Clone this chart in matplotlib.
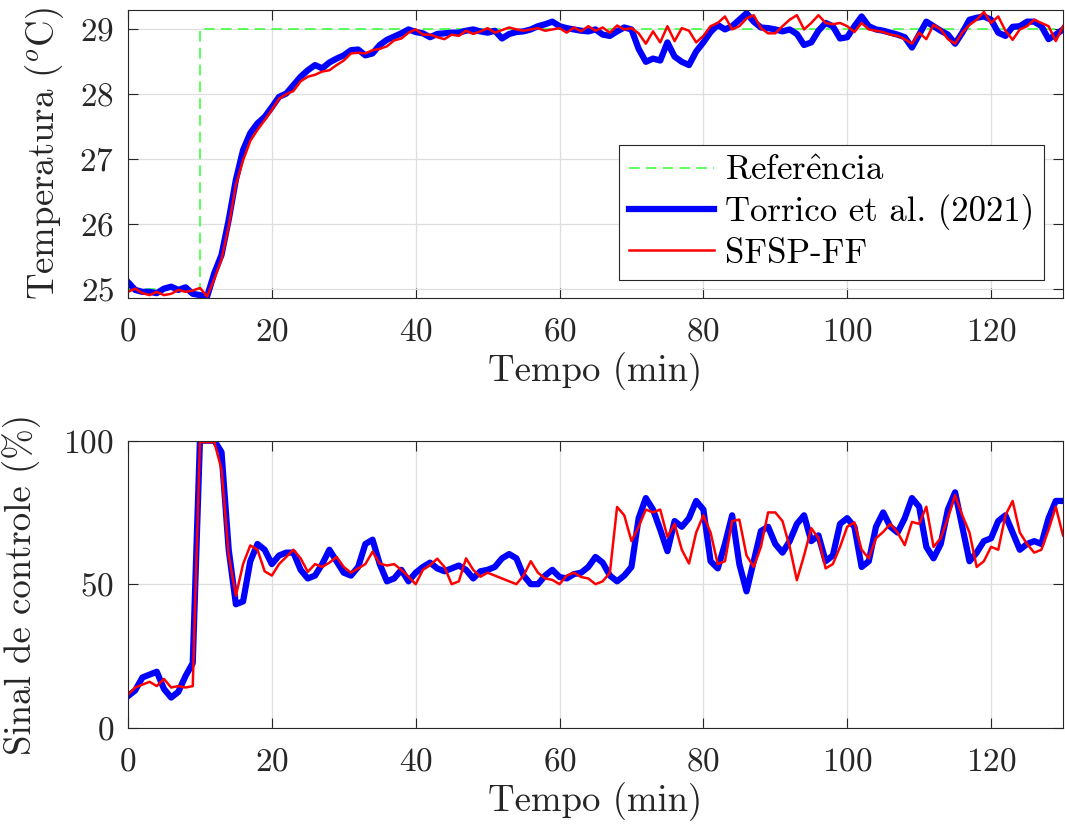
import matplotlib
matplotlib.use("Agg")
import matplotlib.pyplot as plt
import numpy as np

# tempo (min), amostrado a cada minuto
tempo = np.arange(0, 131)

# Referência de temperatura
ref_t0 = 25.0
ref_t1 = 29.0
ref_degrau = 10

# Temperatura (oC)
temp_torrico = [
    25.10, 24.98, 24.95, 24.95, 24.93, 25.00, 25.03, 24.98, 25.02, 24.92,
    24.90, 24.88, 25.24, 25.52, 26.06, 26.68, 27.14, 27.40, 27.55, 27.65,
    27.80, 27.96, 28.01, 28.14, 28.27, 28.37, 28.45, 28.40, 28.49, 28.55,
    28.60, 28.68, 28.69, 28.60, 28.63, 28.76, 28.84, 28.89, 28.94, 29.00,
    28.96, 28.94, 28.88, 28.93, 28.94, 28.95, 28.95, 28.98, 29.00, 28.97,
    28.95, 28.98, 28.86, 28.93, 28.96, 28.97, 29.00, 29.05, 29.08, 29.12,
    29.05, 29.02, 29.00, 28.98, 28.97, 29.00, 28.92, 28.90, 28.97, 29.03,
    29.00, 28.70, 28.50, 28.55, 28.52, 28.80, 28.58, 28.50, 28.45, 28.66,
    28.80, 28.96, 29.07, 29.00, 29.05, 29.15, 29.25, 29.12, 29.03, 29.02,
    29.00, 28.97, 29.00, 28.93, 28.76, 28.80, 28.98, 29.10, 29.05, 28.86,
    28.88, 29.05, 29.20, 29.05, 29.00, 28.98, 28.95, 28.92, 28.88, 28.72,
    28.92, 29.12, 29.05, 28.98, 28.92, 28.78, 28.95, 29.15, 29.18, 29.20,
    29.15, 28.95, 28.90, 29.04, 29.05, 29.12, 29.12, 29.05, 28.85, 28.92,
    29.00]

temp_sfsp = [
    24.95, 25.00, 24.93, 24.90, 24.95, 24.90, 24.92, 24.98, 24.95, 24.97,
    25.01, 24.88, 25.15, 25.45, 25.96, 26.60, 26.98, 27.28, 27.45, 27.60,
    27.76, 27.93, 28.00, 28.05, 28.20, 28.27, 28.30, 28.35, 28.37, 28.45,
    28.52, 28.63, 28.64, 28.63, 28.68, 28.70, 28.74, 28.83, 28.86, 28.95,
    29.00, 28.92, 28.92, 28.88, 28.85, 28.92, 28.90, 28.98, 28.93, 28.97,
    29.02, 28.95, 28.99, 29.03, 29.00, 28.98, 29.00, 29.02, 28.98, 29.00,
    29.02, 28.95, 29.03, 28.97, 29.05, 28.98, 29.03, 28.95, 29.06, 29.00,
    29.02, 28.94, 28.78, 28.97, 28.80, 29.05, 28.82, 29.02, 28.98, 28.80,
    28.90, 29.05, 29.10, 29.20, 29.00, 29.05, 29.17, 29.22, 29.02, 28.94,
    28.94, 29.05, 29.15, 29.22, 29.00, 29.10, 29.22, 29.10, 29.08, 29.10,
    29.05, 28.96, 29.10, 29.00, 28.98, 28.96, 28.92, 28.90, 28.85, 28.78,
    28.95, 28.85, 29.07, 29.00, 28.85, 28.78, 28.95, 29.07, 29.15, 29.27,
    29.10, 29.20, 28.98, 28.84, 29.00, 29.05, 29.15, 29.10, 29.05, 28.82,
    29.05]

# Sinal de controle (%)
u_torrico = [
    11, 13, 17.5, 18.5, 19.5, 13.5, 10.5, 12.5, 18, 22.5,
    100, 100, 100, 96, 62, 43, 44, 58, 64, 62,
    57, 60, 61, 61, 55, 52, 53, 57, 62, 58,
    54, 53, 56, 64, 65.5, 57, 51, 52, 55, 51,
    54, 56, 57.5, 55.5, 54.5, 55.5, 56.5, 55, 52, 54.5,
    55, 56, 59, 60.5, 59, 53, 50, 50, 53, 55,
    52.5, 52, 53.5, 54, 56, 59.5, 57.5, 53, 51, 53,
    56, 73, 80, 76, 69, 61.5, 72, 70, 73, 79,
    76, 58, 55.5, 64, 74, 57, 47.5, 58, 68.5, 70,
    64, 61, 65, 71, 74, 65, 67, 58, 60, 71,
    73, 70, 56, 58, 70, 75, 70, 68, 73, 80,
    77, 63, 59, 64, 76, 82, 70, 58, 61, 65,
    66, 72, 74, 68, 62, 64, 65, 64, 73, 79,
    79]

u_sfsp = [
    11.5, 14, 15, 16, 14.5, 17, 14, 14.5, 14, 14.5,
    99.5, 99.5, 99.5, 90, 60, 46, 57, 63.5, 62, 54.5,
    53, 57, 59.5, 62, 59, 54.3, 57, 56, 57.5, 59.5,
    56, 54, 55.5, 57, 61.3, 57.2, 56.5, 57, 55, 52.6,
    50, 55, 56.6, 58.9, 56, 50, 51, 59, 55, 52.6,
    54, 53, 52, 51, 50, 53, 58, 54, 52, 51.5,
    50, 53, 54, 52.5, 52, 50, 51, 54, 76.9, 74,
    65, 70, 76, 75, 76, 66.5, 71, 62, 57.2, 68,
    74, 68, 57, 58, 72, 72.5, 60, 56, 63, 75,
    75, 72, 63, 51.4, 60, 69.5, 66, 55.5, 57, 63,
    70, 71.5, 62, 59, 66, 68.2, 71, 68, 63.6, 71.7,
    71, 77, 63, 66, 73, 81, 74, 68, 56, 58,
    63, 62, 74, 79, 68, 64, 61, 62, 69, 77,
    67]

referencia = np.where(tempo < ref_degrau, ref_t0, ref_t1)

plt.rcParams['font.family'] = ['cmr10', 'DejaVu Serif']
plt.rcParams['mathtext.fontset'] = 'cm'
plt.rcParams['axes.formatter.use_mathtext'] = True
plt.rcParams['axes.unicode_minus'] = False

cinza = '#262626'

fig = plt.figure(figsize=(10.65, 8.26), dpi=100)
ax1 = fig.add_axes([0.1202, 0.6396, 0.8779, 0.3483])
ax2 = fig.add_axes([0.1202, 0.1190, 0.8779, 0.3475])

ax1.plot(tempo, referencia, '--', color='#33ff33', lw=1.1, dashes=(7, 4),
         drawstyle='steps-post', label=r'Refer$\mathrm{\hat{e}}$ncia')
ax1.plot(tempo, temp_torrico, color='#0000ff', lw=4.5, label='Torrico et al. (2021)')
ax1.plot(tempo, temp_sfsp, color='#ff0000', lw=1.8, label='SFSP-FF')

ax2.plot(tempo, u_torrico, color='#0000ff', lw=4.5)
ax2.plot(tempo, u_sfsp, color='#ff0000', lw=1.8)

ax1.set_xlim(0, 130)
ax1.set_ylim(24.86, 29.3)
ax1.set_yticks([25, 26, 27, 28, 29])
ax2.set_xlim(0, 130)
ax2.set_ylim(0, 100)
ax2.set_yticks([0, 50, 100])

for ax in (ax1, ax2):
    ax.set_xticks([0, 20, 40, 60, 80, 100, 120])
    ax.grid(True, color='#dedede', lw=0.9)
    ax.set_axisbelow(True)
    ax.tick_params(direction='in', top=True, right=True, length=7, width=0.8,
                   labelsize=24, colors=cinza, labelcolor=cinza)
    ax.tick_params(axis='x', pad=14)
    ax.tick_params(axis='y', pad=10)
    for s in ax.spines.values():
        s.set_color(cinza)
        s.set_linewidth(0.8)
    ax.set_xlabel('Tempo (min)', fontsize=26.5, color=cinza)
    ax.xaxis.set_label_coords(0.5, -0.19)

ax1.set_ylabel(r'Temperatura ($^o$C)', fontsize=26.5, color=cinza)
ax1.yaxis.set_label_coords(-0.066, 0.5)
ax2.set_ylabel('Sinal de controle (%)', fontsize=26.5, color=cinza)
ax2.yaxis.set_label_coords(-0.093, 0.5)

leg = ax1.legend(loc='lower right', bbox_to_anchor=(0.98, 0.0615),
                 borderaxespad=0, fontsize=25, fancybox=False, framealpha=1,
                 edgecolor=cinza, handlelength=2.45, handletextpad=0.3,
                 labelspacing=0.22, borderpad=0.3)
leg.get_frame().set_linewidth(0.8)

plt.savefig('out.png', dpi=100)
